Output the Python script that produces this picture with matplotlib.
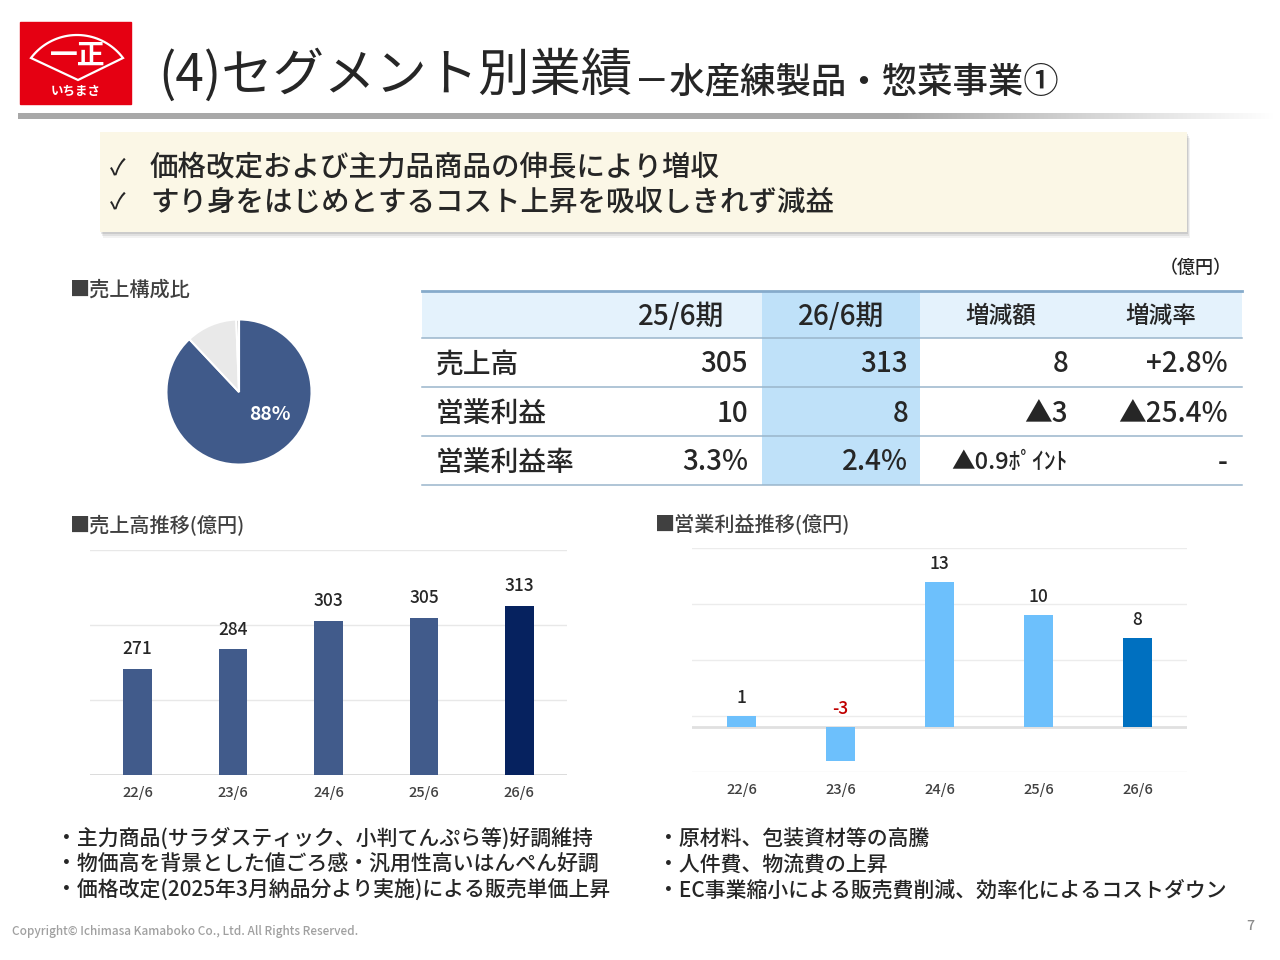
import matplotlib.pyplot as plt
import numpy as np
from matplotlib.patches import Rectangle, Polygon

plt.rcParams['font.family'] = ['Noto Sans CJK JP', 'DejaVu Sans']
plt.rcParams['font.weight'] = 'medium'

W, H = 1280, 960

# --- data ---
years = ['22/6', '23/6', '24/6', '25/6', '26/6']
sales = [271, 284, 303, 305, 313]
op_profit = [1, -3, 13, 10, 8]

share_vals = [88, 11.4, 0.6]
share_label = '88%'

tbl_cols = ['25/6期', '26/6期', '増減額', '増減率']
tbl_rows = ['売上高', '営業利益', '営業利益率']
tbl_cells = [['305', '313', '8', '+2.8%'],
             ['10', '8', '▲3', '▲25.4%'],
             ['3.3%', '2.4%', '▲0.9ﾎﾟｲﾝﾄ', '-']]

head_points = ['価格改定および主力品商品の伸長により増収',
               'すり身をはじめとするコスト上昇を吸収しきれず減益']
sales_notes = ['・主力商品(サラダスティック、小判てんぷら等)好調維持',
               '・物価高を背景とした値ごろ感・汎用性高いはんぺん好調',
               '・価格改定(2025年3月納品分より実施)による販売単価上昇']
profit_notes = ['・原材料、包装資材等の高騰',
                '・人件費、物流費の上昇',
                '・EC事業縮小による販売費削減、効率化によるコストダウン']

txt = '#262626'

fig = plt.figure(figsize=(12.8, 9.6), dpi=100)
bg = fig.add_axes([0, 0, 1, 1])
bg.axis('off')


def px_axes(x0, y0, x1, y1):
    return fig.add_axes([x0 / W, 1 - y1 / H, (x1 - x0) / W, (y1 - y0) / H])


# logo
bg.add_patch(Rectangle((20, 22), 111, 82, color='#e50012'))
t = np.linspace(-0.927, 0.927, 40)
fan = [(77 + 57.5 * np.sin(a), 92.5 - 57.5 * np.cos(a)) for a in t] + [(78, 80)]
bg.add_patch(Polygon(fan, closed=True, fill=False, ec='white', lw=1.6))
bg.text(78, 56, '一正', color='white', fontsize=20, fontweight='bold', ha='center', va='center')
bg.text(76, 91, 'いちまさ', color='white', fontsize=9, fontweight='bold', ha='center', va='center')

# title
bg.text(158, 76, '(4)セグメント別業績', fontsize=37, color=txt, ha='left', va='center',
        fontweight='normal')
bg.text(634, 82, '－水産練製品・惣菜事業①', fontsize=25.5, color=txt, ha='left', va='center')

# gradient rule under title
grad = np.ones((1, 600, 4))
grad[..., :3] = 0.66
grad[0, :, 3] = np.clip((1 - np.linspace(0, 1, 600)) / 0.3, 0, 1)
bg.imshow(grad, extent=(18, 1275, 119, 113), aspect='auto', zorder=1)

# summary box
for d, a in [(6, 0.05), (4, 0.07), (2, 0.09)]:
    bg.add_patch(Rectangle((100 + d / 2, 132 + d), 1087, 100, color='#000000', alpha=a, lw=0))
bg.add_patch(Rectangle((100, 132), 1087, 100, color='#fbf7e6', lw=0))
for i, s in enumerate(head_points):
    y = 168 + i * 34
    bg.text(110, y, '✓', fontsize=16, color=txt, ha='left', va='center')
    bg.text(150, y, s, fontsize=20.5, color=txt, ha='left', va='center')

# section headers
sec = '#404040'
bg.text(70, 290, '■売上構成比', fontsize=14.5, color=sec, ha='left', va='center')
bg.text(70, 525, '■売上高推移(億円)', fontsize=14.5, color=sec, ha='left', va='center')
bg.text(655, 525, '■営業利益推移(億円)', fontsize=14.5, color=sec, ha='left', va='center')

# table
bg.text(1232, 268, '（億円）', fontsize=13, color=txt, ha='right', va='center')
bg.add_patch(Rectangle((422, 291), 820, 47, color='#e4f2fc', lw=0))
bg.add_patch(Rectangle((762, 291), 158, 194, color='#bfe1f9', lw=0))
bg.plot([422, 1242], [291, 291], color='#86abcb', lw=2)
for y in [338, 387, 436, 485]:
    bg.plot([422, 1242], [y, y], color='#9ab5cb', lw=1.1)
head_x = [681, 841, 1001, 1161]
head_fs = [20, 20, 17, 17]
val_x = [748, 908, 1068, 1228]
row_y = [364, 413, 462]
for c, s in enumerate(tbl_cols):
    bg.text(head_x[c], 316, s, fontsize=head_fs[c], color=txt, ha='center', va='center')
for r, lab in enumerate(tbl_rows):
    bg.text(436, row_y[r], lab, fontsize=20, color=txt, ha='left', va='center')
    for c, s in enumerate(tbl_cells[r]):
        fs = 17 if c == 2 and '%' not in s and len(s) > 3 else 20
        bg.text(val_x[c], row_y[r], s, fontsize=fs, color=txt, ha='right', va='center')

# pie
ax_p = px_axes(239 - 74, 392 - 74, 239 + 74, 392 + 74)
ax_p.pie(share_vals, colors=['#405a8a', '#e9e9e9', '#bdbdbd'], startangle=90,
         counterclock=False, wedgeprops=dict(ec='white', lw=1.5))
ax_p.set_xlim(-1.02, 1.02)
ax_p.set_ylim(-1.02, 1.02)
ax_p.text(0.43, -0.31, share_label, color='white', fontsize=14, fontweight='bold',
          ha='center', va='center')

# sales bars
ax1 = px_axes(90, 550, 567, 775)
x = np.arange(len(years))
ax1.bar(x, sales, width=0.3, color=['#415b8b'] * 4 + ['#06225f'], zorder=3)
ax1.set_xlim(-0.5, len(years) - 0.5)
ax1.set_ylim(200, 350)
ax1.set_yticks([200, 250, 300, 350])
ax1.grid(axis='y', color='#e8e8e8', lw=1, zorder=0)
ax1.axhline(200, color='#d9d9d9', lw=2, zorder=2)
for i, v in enumerate(sales):
    ax1.annotate(str(v), (i, v), xytext=(0, 14), textcoords='offset points',
                 ha='center', va='center', fontsize=12.5, color=txt)

# operating profit bars
ax2 = px_axes(692, 548, 1187, 772)
ax2.bar(x, op_profit, width=0.3, color=['#6dc0fc'] * 4 + ['#0070c0'], zorder=3)
ax2.set_xlim(-0.5, len(years) - 0.5)
ax2.set_ylim(-4, 16)
ax2.set_yticks([-4, 1, 6, 11, 16])
ax2.grid(axis='y', color='#ececec', lw=1, zorder=0)
ax2.axhline(0, color='#e0e0e0', lw=2, zorder=2)
for i, v in enumerate(op_profit):
    ax2.annotate(str(v), (i, max(v, 0)), xytext=(0, 13), textcoords='offset points',
                 ha='center', va='center', fontsize=12.5,
                 color='#c00000' if v < 0 else txt)

for ax in (ax1, ax2):
    ax.set_xticks(x, years)
    ax.tick_params(axis='x', length=0, pad=8, labelsize=10.5, labelcolor='#404040')
    ax.tick_params(axis='y', length=0, labelleft=False)
    for sp in ax.spines.values():
        sp.set_visible(False)
    ax.set_facecolor('none')

# notes
for i, s in enumerate(sales_notes):
    bg.text(56, 839 + i * 26, s, fontsize=15, color=txt, ha='left', va='center')
for i, s in enumerate(profit_notes):
    bg.text(658, 839 + i * 26, s, fontsize=15, color=txt, ha='left', va='center')

bg.text(12, 932, 'Copyright© Ichimasa Kamaboko Co., Ltd. All Rights Reserved.',
        fontsize=8.5, color='#a0a0a0', ha='left', va='center')
bg.text(1254, 926, '7', fontsize=10, color='#8c8c8c', ha='right', va='center')

bg.set_xlim(0, W)
bg.set_ylim(H, 0)

fig.savefig('out.png', dpi=100)
